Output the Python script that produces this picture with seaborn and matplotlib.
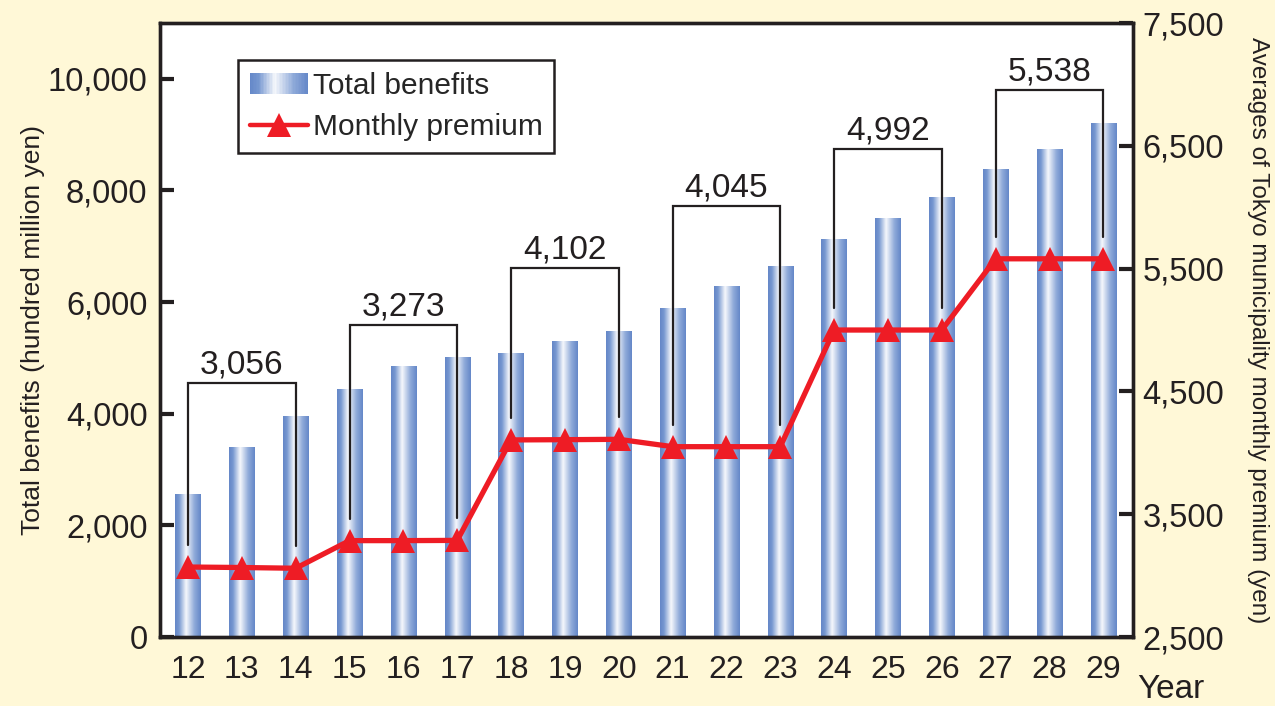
import numpy as np
import matplotlib
matplotlib.use("Agg")
import matplotlib.pyplot as plt
import seaborn as sns
from matplotlib.colors import LinearSegmentedColormap
from matplotlib.legend_handler import HandlerBase
from matplotlib.patches import Rectangle, Patch
from matplotlib.lines import Line2D
from matplotlib.ticker import FuncFormatter

# data
years = ["12", "13", "14", "15", "16", "17", "18", "19", "20",
         "21", "22", "23", "24", "25", "26", "27", "28", "29"]
benefits = [2550, 3393, 3944, 4434, 4847, 5009, 5081, 5296, 5476,
            5889, 6284, 6643, 7127, 7504, 7882, 8384, 8725, 9192]
premium = [3070, 3066, 3060, 3285, 3285, 3287, 4105, 4107, 4110,
           4050, 4050, 4050, 5000, 5000, 5000, 5580, 5580, 5580]
period_avg = ["3,056", "3,273", "4,102", "4,045", "4,992", "5,538"]
# bracket heights (right axis units), layout only
bracket_top = [4568, 5041, 5505, 6010, 6474, 6954]

BG = "#FFF8D7"
INK = "#231F20"
RED = "#EE1C25"

sns.set_style("white")
plt.rcParams["font.family"] = ["Liberation Sans", "DejaVu Sans"]

grad = LinearSegmentedColormap.from_list(
    "bar", [(0.0, "#6487C8"), (0.15, "#7697D0"), (0.43, "#F6F8FC"),
            (0.75, "#8FAAD9"), (1.0, "#6487C8")])

fig = plt.figure(figsize=(12.75, 7.06), dpi=100, facecolor=BG)
ax = fig.add_axes([0.1255, 0.0977, 0.7631, 0.8697])
ax.set_facecolor("white")

sns.barplot(x=years, y=benefits, color="#6487C8", width=0.47, ax=ax,
            edgecolor="none", zorder=1)

# gradient fill over each bar
strip = np.linspace(0, 1, 200).reshape(1, -1)
for p in ax.patches:
    x0, w, h = p.get_x(), p.get_width(), p.get_height()
    ax.imshow(strip, cmap=grad, extent=[x0, x0 + w, 0, h], aspect="auto",
              zorder=2, interpolation="bilinear")

n = len(years)
ax.set_xlim(-0.52, n - 1 + 0.55)
ax.set_ylim(0, 11000)
ax.set_yticks([0, 2000, 4000, 6000, 8000, 10000])
ax.yaxis.set_major_formatter(FuncFormatter(lambda v, _: f"{int(v):,}"))
ax.set_xticks(range(n))
ax.set_xticklabels(years)
ax.set_xticks(np.arange(n - 1) + 0.5, minor=True)
ax.tick_params(axis="x", which="major", length=0, pad=13, labelsize=23,
               labelcolor=INK)
ax.tick_params(axis="x", which="minor", direction="in", length=9, width=2.4,
               color=INK)
ax.tick_params(axis="y", direction="in", length=10, width=3, color=INK,
               pad=9, labelsize=23.5, labelcolor=INK)
ax.set_xlabel("")
ax.set_ylabel("")
for s in ax.spines.values():
    s.set_linewidth(2.4)
    s.set_color(INK)

ax2 = ax.twinx()
ax2.patch.set_visible(False)
pos = np.arange(n)
sns.lineplot(x=pos, y=premium, ax=ax2, color=RED, linewidth=3.8,
             marker="^", markersize=17, markeredgewidth=0, zorder=5)
ax2.set_ylim(2500, 7500)
ax2.set_yticks([2500, 3500, 4500, 5500, 6500, 7500])
ax2.yaxis.set_major_formatter(FuncFormatter(lambda v, _: f"{int(v):,}"))
ax2.tick_params(axis="y", direction="in", length=10, width=3, color=INK,
                pad=7, labelsize=23.5, labelcolor=INK)
ax2.set_ylabel("")
for s in ax2.spines.values():
    s.set_linewidth(2.4)
    s.set_color(INK)

# period brackets
for g, (lab, top) in enumerate(zip(period_avg, bracket_top)):
    i0, i1 = 3 * g, 3 * g + 2
    ax2.plot([i0, i0, i1, i1],
             [premium[i0] + 180, top, top, premium[i1] + 180],
             color=INK, lw=1.6, zorder=4, solid_joinstyle="miter")
    ax2.annotate(lab, xy=((i0 + i1) / 2, top), xytext=(0, 7),
                 textcoords="offset points", ha="center", va="baseline",
                 fontsize=24, color=INK)


class GradientHandler(HandlerBase):
    # legend swatch with the same gradient as the bars
    def create_artists(self, legend, orig_handle, xdescent, ydescent,
                       width, height, fontsize, trans):
        k = 40
        arts = []
        for i in range(k):
            arts.append(Rectangle((-xdescent + width * i / k, -ydescent),
                                  width / k * 1.08, height,
                                  facecolor=grad((i + 0.5) / k),
                                  edgecolor="none", transform=trans))
        return arts


h_bar = Patch(facecolor="#6487C8")
h_line = Line2D([], [], color=RED, lw=3.2, marker="^", markersize=17,
                markeredgewidth=0)
leg = ax2.legend([h_bar, h_line], ["Total benefits", "Monthly premium"],
                 handler_map={Patch: GradientHandler()},
                 loc="upper left", bbox_to_anchor=(0.08, 0.94),
                 borderaxespad=0, fontsize=21.5, frameon=True, fancybox=False,
                 handlelength=1.95, handletextpad=0.15, borderpad=0.4,
                 labelspacing=0.45)
leg.get_frame().set_edgecolor(INK)
leg.get_frame().set_linewidth(1.8)
leg.get_frame().set_facecolor("white")
leg.get_frame().set_alpha(1)
leg.set_zorder(10)

narrow = ["Liberation Sans Narrow", "Liberation Sans", "DejaVu Sans"]
fig.text(0.026, 0.533, "Total benefits (hundred million yen)", rotation=90,
         ha="center", va="center", fontsize=19, color=INK, family=narrow)
fig.text(0.987, 0.533, "Averages of Tokyo municipality monthly premium (yen)",
         rotation=270, ha="center", va="center", fontsize=17.5, color=INK,
         family=narrow)
ax.text(1.004, -0.1, "Year", transform=ax.transAxes, ha="left",
        va="baseline", fontsize=24, color=INK)

fig.savefig("out.png", dpi=100, facecolor=BG)
